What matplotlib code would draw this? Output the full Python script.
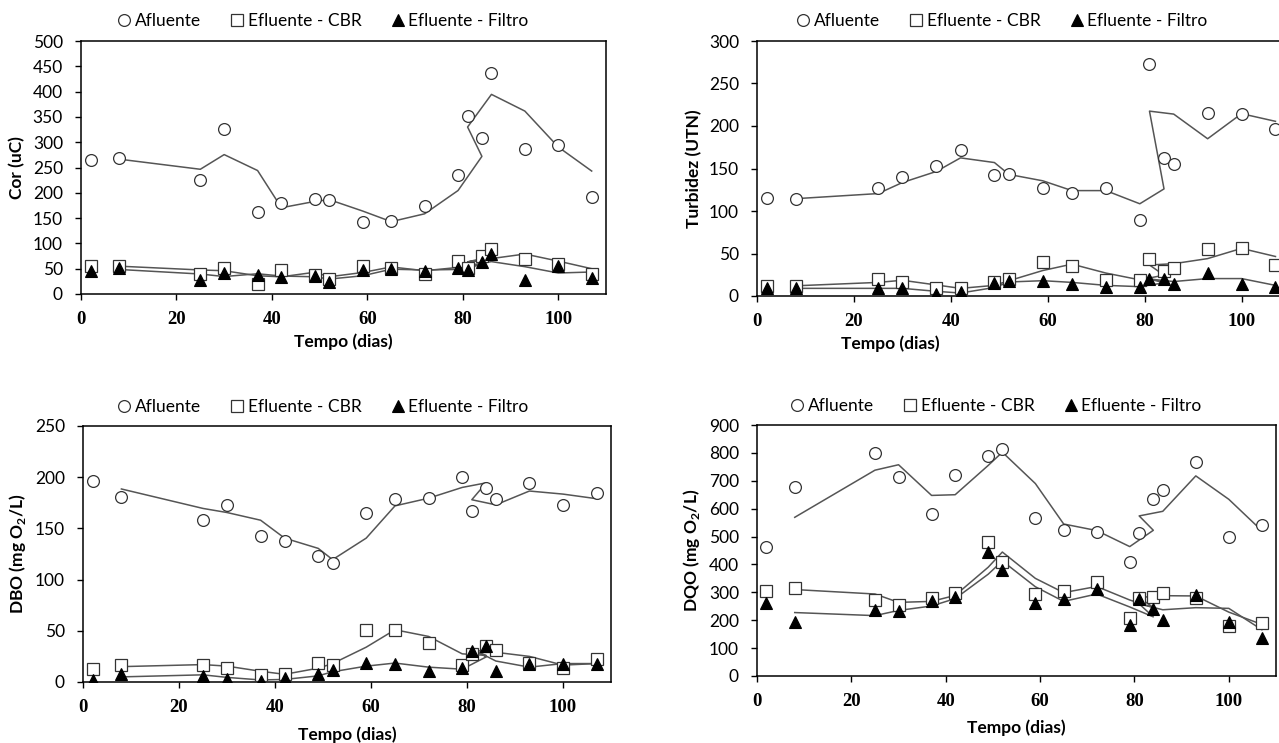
import pandas as pd
import numpy as np
import matplotlib.pyplot as plt
from matplotlib.lines import Line2D

plt.rcParams['font.family'] = ['Lato', 'DejaVu Sans']
plt.rcParams['mathtext.fontset'] = 'custom'
plt.rcParams['mathtext.rm'] = 'Lato'
plt.rcParams['mathtext.bf'] = 'Lato:bold'

# days in the spreadsheet order (84 comes before 81 in the original sheet,
# which is why the moving-average trend lines zig-zag near day 80)
dias = [2, 8, 25, 30, 37, 42, 49, 52, 59, 65, 72, 79, 84, 81, 86, 93, 100, 107]

# Cor (uC)
cor_afl = [265, 268, 225, 326, 162, 179, 187, 186, 142, 144, 173, 236, 308, 352, 437, 286, 295, 191]
cor_cbr = [55, 55, 40, 52, 20, 48, 38, 30, 55, 52, 40, 65, 75, 52, 88, 70, 60, 40]
cor_fil = [45, 52, 27, 42, 38, 33, 35, 24, 48, 50, 45, 52, 64, 48, 80, 28, 55, 32]

# Turbidez (UTN)
tur_afl = [115, 114, 127, 140, 153, 172, 142, 144, 127, 121, 127, 90, 162, 273, 155, 215, 214, 197]
tur_cbr = [12, 12, 20, 17, 9, 9, 16, 20, 40, 35, 19, 19, 30, 43, 33, 55, 57, 36]
tur_fil = [9, 9, 9, 9, 2, 5, 15, 18, 18, 14, 11, 11, 20, 20, 14, 27, 14, 11]

# DBO (mg O2/L)
dbo_afl = [196, 181, 158, 173, 143, 138, 123, 116, 165, 179, 180, 200, 189, 167, 179, 194, 173, 185]
dbo_cbr = [13, 17, 17, 14, 7, 8, 19, 17, 51, 51, 38, 17, 35, 27, 31, 19, 14, 22]
dbo_fil = [2, 8, 6, 3, 1, 4, 8, 12, 19, 18, 11, 14, 35, 30, 11, 18, 18, 18]

# DQO (mg O2/L)
dqo_afl = [462, 676, 800, 715, 580, 720, 790, 815, 565, 525, 518, 410, 635, 513, 668, 767, 500, 542]
dqo_cbr = [305, 315, 273, 255, 280, 298, 482, 407, 293, 305, 337, 208, 283, 280, 296, 278, 180, 190]
dqo_fil = [260, 195, 238, 232, 270, 285, 445, 380, 260, 275, 313, 182, 242, 275, 200, 290, 195, 137]

paineis = [
    ('Cor (uC)', [cor_afl, cor_cbr, cor_fil], 500, 50),
    ('Turbidez (UTN)', [tur_afl, tur_cbr, tur_fil], 300, 50),
    ('DBO (mg O$_{\\mathbf{2}}$/L)', [dbo_afl, dbo_cbr, dbo_fil], 250, 50),
    ('DQO (mg O$_{\\mathbf{2}}$/L)', [dqo_afl, dqo_cbr, dqo_fil], 900, 100),
]

W, H = 1279, 743
# axes boxes in pixels: left, right, top, bottom
caixas = [(81, 606, 41, 294), (757, 1290, 41, 296), (83, 611, 426, 682), (757, 1276, 425, 676)]
legenda_pos = [(322, 21), (1001, 21), (322, 407), (995, 406)]
xlabel_y = [342, 344, 735, 728]

marcadores = [dict(marker='o', mfc='white', mec='#333333', ms=8.5, mew=0.9),
              dict(marker='s', mfc='white', mec='#333333', ms=8, mew=0.9),
              dict(marker='^', mfc='black', mec='black', ms=8, mew=0.8)]
nomes = ['Afluente', 'Efluente - CBR', 'Efluente - Filtro']

fig = plt.figure(figsize=(W / 100, H / 100), dpi=100)

for i, (ylab, series, ymax, ystep) in enumerate(paineis):
    l, r, t, b = caixas[i]
    ax = fig.add_axes([l / W, 1 - b / H, (r - l) / W, (b - t) / H])
    x = pd.Series(dias)
    for s, mk in zip(series, marcadores):
        y = pd.Series(s)
        # Excel style 2-period moving average trend line (drawn in sheet order)
        ma = y.rolling(2).mean()
        ax.plot(x[1:], ma[1:], color='#555555', lw=1.1, zorder=2)
        ax.plot(x, y, linestyle='none', zorder=3, **mk)

    ax.set_xlim(0, 110)
    ax.set_ylim(0, ymax)
    ax.set_xticks(np.arange(0, 101, 20))
    ax.set_yticks(np.arange(0, ymax + 1, ystep))
    ax.tick_params(direction='out', length=4, width=1, labelsize=12.5)
    ax.tick_params(axis='y', pad=9)
    ax.tick_params(axis='x', pad=8, labelsize=13.5)
    for lab in ax.get_xticklabels():
        lab.set_fontfamily('Liberation Serif')
        lab.set_fontweight('bold')
    for sp in ax.spines.values():
        sp.set_linewidth(1.1)
    ax.set_ylabel(ylab, fontsize=12.5, fontweight='bold', labelpad=5)
    xc = (l + r) / 2 if i != 1 else (l + 1024) / 2
    fig.text(xc / W, 1 - xlabel_y[i] / H, 'Tempo (dias)', ha='center', va='center',
             fontsize=12.5, fontweight='bold')

    handles = [Line2D([], [], linestyle='none', **mk) for mk in marcadores]
    lx, ly = legenda_pos[i]
    fig.legend(handles, nomes, loc='center', bbox_to_anchor=(lx / W, 1 - ly / H), ncol=3,
               frameon=False, fontsize=12.5, handletextpad=0.1, columnspacing=1.6,
               handlelength=1.0, borderaxespad=0)

fig.savefig('out.png', dpi=100)
